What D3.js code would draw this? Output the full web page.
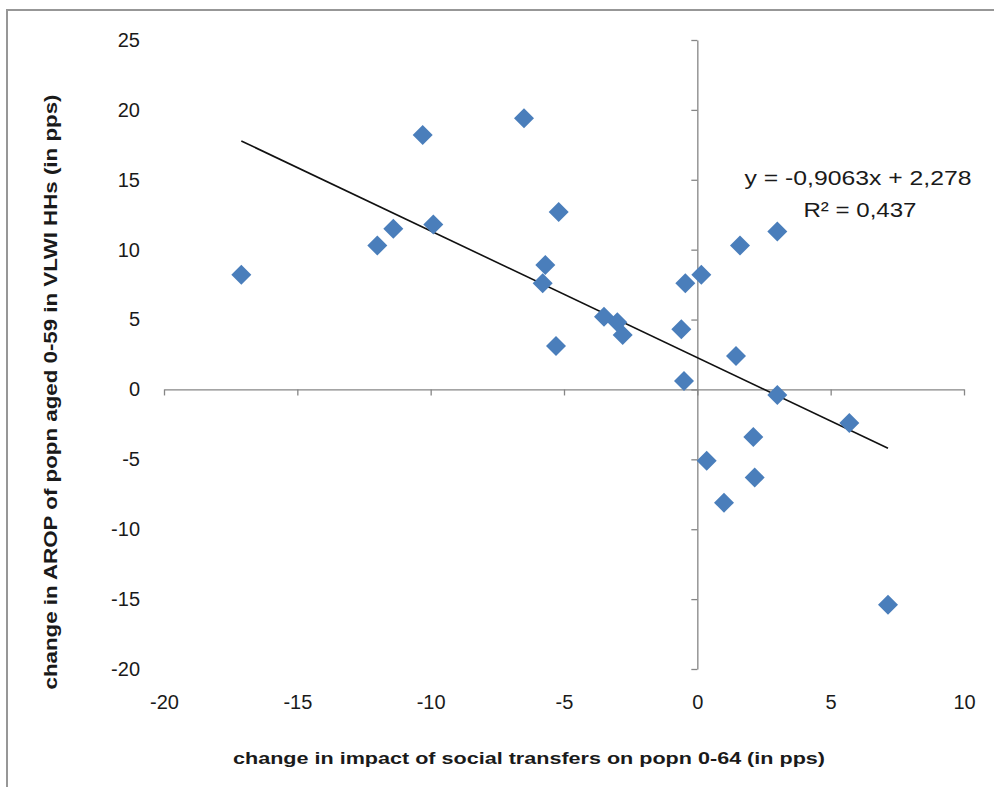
<!DOCTYPE html>
<html>
<head>
<meta charset="utf-8">
<script src="https://cdn.jsdelivr.net/npm/d3@7"></script>
<style>
  body { margin: 0; background: #fff; }
  svg text { font-family: "Liberation Sans", Arial, sans-serif; fill: #1a1a1a; }
</style>
</head>
<body>
<svg width="994" height="787"></svg>
<script>
// values
const xValues = [-17.1, -12.0, -11.4, -10.3, -9.9, -6.5, -5.2, -5.7, -5.8, -5.3, -3.5, -3.0, -2.8,
                 -0.6, -0.45, 0.15, -0.5, 1.6, 3.0, 1.45, 3.0, 5.7, 2.1, 0.35, 2.15, 1.0, 7.15];
const yValues = [8.2, 10.3, 11.5, 18.2, 11.8, 19.4, 12.7, 8.9, 7.6, 3.1, 5.2, 4.8, 3.9,
                 4.3, 7.6, 8.2, 0.6, 10.3, 11.3, 2.4, -0.4, -2.4, -3.4, -5.1, -6.3, -8.1, -15.4];
const xTicks = [-20, -15, -10, -5, 0, 5, 10];
const yTicks = [-20, -15, -10, -5, 0, 5, 10, 15, 20, 25];
const trendSlope = -0.9063;
const trendIntercept = 2.278;
const eqLabel = "y = -0,9063x + 2,278";
const r2Label = "R² = 0,437";
const xTitle = "change in impact of social transfers on popn 0-64 (in pps)";
const yTitle = "change in AROP of popn aged 0-59 in VLWI HHs (in pps)";

const svg = d3.select("svg");
const plotL = 164, plotR = 964, plotT = 40, plotB = 669;

// outer frame (only top and left edges show)
svg.append("rect")
  .attr("x", 7).attr("y", 10).attr("width", 1100).attr("height", 900)
  .attr("fill", "none").attr("stroke", "#979797").attr("stroke-width", 2);

const x = d3.scaleLinear().domain([-20, 10]).range([plotL, plotR]);
const y = d3.scaleLinear().domain([-20, 25]).range([plotB, plotT]);

// axes through zero
const xAxis = svg.append("g")
  .attr("transform", `translate(0,${y(0)})`)
  .call(d3.axisBottom(x).tickValues(xTicks).tickSize(6).tickSizeOuter(0).tickFormat(""));
const yAxis = svg.append("g")
  .attr("transform", `translate(${x(0)},0)`)
  .call(d3.axisLeft(y).tickValues(yTicks).tickSize(6).tickSizeOuter(0).tickFormat(""));
[xAxis, yAxis].forEach(g => {
  g.selectAll("path, line").attr("stroke", "#868686").attr("stroke-width", 1.3);
});

// tick labels sit at the low edge of the plot
const xLab = svg.append("g")
  .attr("transform", `translate(0,${plotB + 23})`)
  .call(d3.axisBottom(x).tickValues(xTicks).tickSize(0).tickFormat(d => String(d)));
const yLab = svg.append("g")
  .attr("transform", `translate(${plotL - 21},0)`)
  .call(d3.axisLeft(y).tickValues(yTicks).tickSize(0).tickFormat(d => String(d)));
[xLab, yLab].forEach(g => {
  g.select(".domain").remove();
  g.selectAll("text").attr("font-size", 20).attr("fill", "#1a1a1a")
    .style("font-family", "'Liberation Sans', Arial, sans-serif");
});

// trend line over the data range
const xExt = d3.extent(xValues);
svg.append("line")
  .attr("x1", x(xExt[0])).attr("y1", y(trendSlope * xExt[0] + trendIntercept))
  .attr("x2", x(xExt[1])).attr("y2", y(trendSlope * xExt[1] + trendIntercept))
  .attr("stroke", "#111").attr("stroke-width", 1.6);

// diamond markers
const diamond = d3.symbol().type(d3.symbolSquare).size(200);
svg.append("g").selectAll("path")
  .data(xValues.map((v, i) => [v, yValues[i]]))
  .join("path")
  .attr("d", diamond)
  .attr("transform", d => `translate(${x(d[0])},${y(d[1])}) rotate(45)`)
  .attr("fill", "#4a7ebb");

// regression labels
svg.append("text")
  .attr("x", 858).attr("y", 185).attr("text-anchor", "middle")
  .attr("font-size", 20).attr("textLength", 227).attr("lengthAdjust", "spacingAndGlyphs")
  .text(eqLabel);
svg.append("text")
  .attr("x", 860).attr("y", 217).attr("text-anchor", "middle")
  .attr("font-size", 20).attr("textLength", 113).attr("lengthAdjust", "spacingAndGlyphs")
  .text(r2Label);

// axis titles
svg.append("text")
  .attr("x", 529).attr("y", 764).attr("text-anchor", "middle")
  .attr("font-size", 17).attr("font-weight", "bold")
  .attr("textLength", 592).attr("lengthAdjust", "spacingAndGlyphs")
  .text(xTitle);
svg.append("text")
  .attr("transform", "translate(57,392) rotate(-90)")
  .attr("text-anchor", "middle")
  .attr("font-size", 18).attr("font-weight", "bold")
  .attr("textLength", 595).attr("lengthAdjust", "spacingAndGlyphs")
  .text(yTitle);
</script>
</body>
</html>
